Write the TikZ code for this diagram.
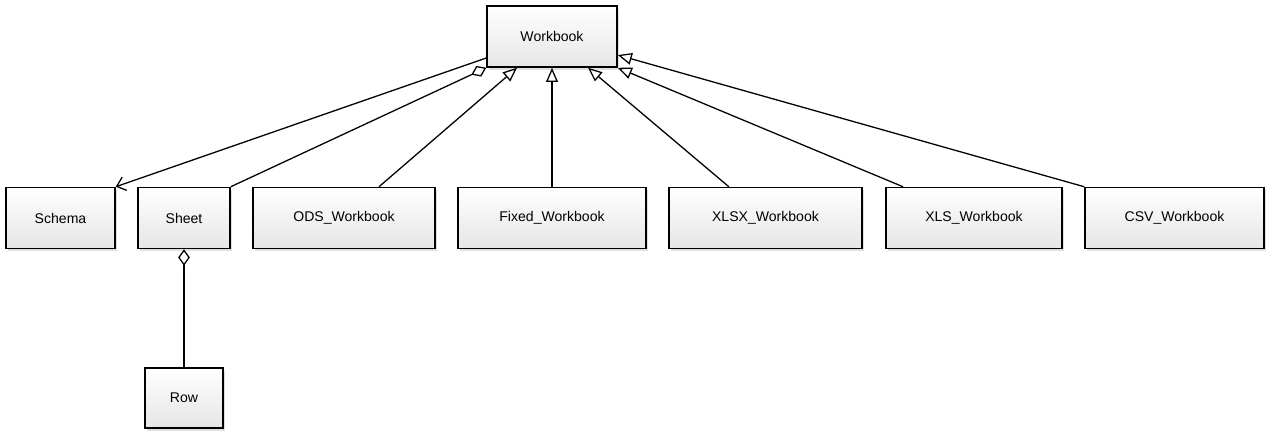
\documentclass[tikz,border=0pt]{standalone}
\usepackage{fontspec}
\setmainfont{Liberation Sans}
\usetikzlibrary{arrows.meta,shadows}
\tikzset{
  cls/.style={draw,line width=1.3pt,minimum height=1.83cm,top color=white,bottom color=gray!20,
    drop shadow={opacity=0.25,shadow xshift=0.06cm,shadow yshift=-0.08cm},font=\fontsize{12}{14}\selectfont},
  isa/.style={-{Triangle[open,length=12pt,width=10pt]},line width=1.1pt},
  has/.style={-{Diamond[open,length=14pt,width=10pt]},line width=1.1pt},
  uses/.style={-{Straight Barb[length=7pt,width=12pt]},line width=1.1pt},
}
\begin{document}
\begin{tikzpicture}[x=0.03cm,y=-0.03cm]
\useasboundingbox (0,0) rectangle (1269,435);
\node[cls,minimum width=3.9cm] (wb) at (552,36.5) {Workbook};
\node[cls,minimum width=3.27cm] (schema) at (60.5,218) {Schema};
\node[cls,minimum width=2.76cm] (sheet) at (184,218) {Sheet};
\node[cls,minimum width=2.34cm,minimum height=1.8cm] (row) at (184,398) {Row};
\foreach \n/\x/\w/\t in {ods/344/5.46/ODS\_Workbook,fixed/552/5.64/Fixed\_Workbook,
  xlsx/765.5/5.79/XLSX\_Workbook,xls/974/5.28/XLS\_Workbook,csv/1174.5/5.37/CSV\_Workbook}
\node[cls,minimum width=\w cm] (\n) at (\x,218) {\t};
\draw[uses] ([yshift=-0.645cm]wb.west) -- (schema.north east);
\draw[has] (sheet.north east) -- (wb.south west);
\draw[has] (row.north) -- (sheet.south);
\draw[isa] ([xshift=1.05cm]ods.north) -- ([xshift=-1.05cm]wb.south);
\draw[isa] (fixed.north) -- (wb.south);
\draw[isa] ([xshift=-1.1cm]xlsx.north) -- ([xshift=1.08cm]wb.south);
\draw[isa] ([xshift=-2.13cm]xls.north) -- (wb.south east);
\draw[isa] (csv.north west) -- ([yshift=-0.555cm]wb.east);
\end{tikzpicture}
\end{document}
